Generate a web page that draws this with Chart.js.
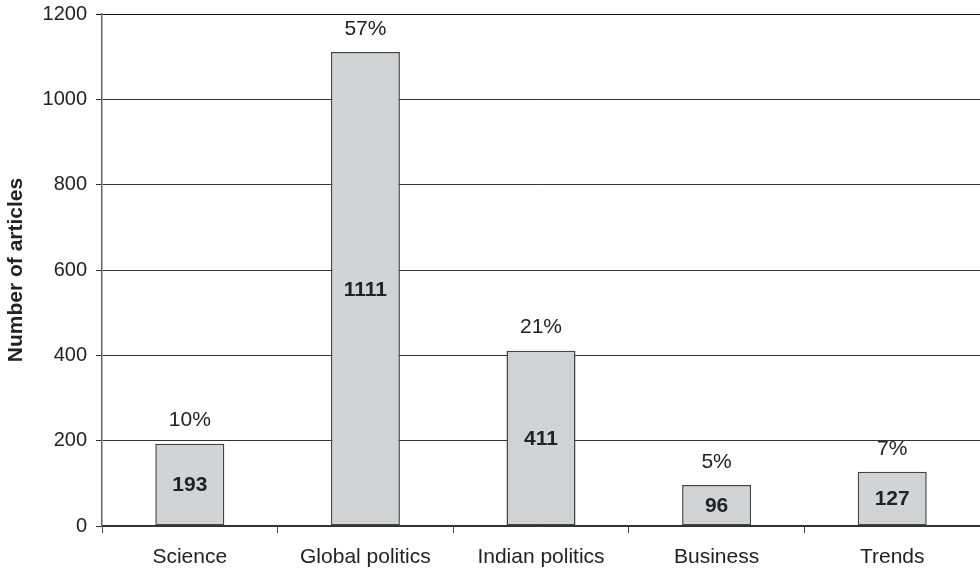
<!DOCTYPE html>
<html>
<head>
<meta charset="utf-8">
<script src="https://cdn.jsdelivr.net/npm/chart.js@4"></script>
<style>
  html, body { margin: 0; padding: 0; background: #fff; }
  #wrap { width: 980px; height: 571px; position: relative; }
</style>
</head>
<body>
<div id="wrap"><canvas id="c"></canvas></div>
<script>
// Article counts per topic
const categories = ['Science', 'Global politics', 'Indian politics', 'Business', 'Trends'];
const articleCounts = [193, 1111, 411, 96, 127];
const shareLabels = ['10%', '57%', '21%', '5%', '7%'];
const yTicks = [0, 200, 400, 600, 800, 1000, 1200];

const FONT = '"Liberation Sans", Arial, Helvetica, sans-serif';
const TEXT = '#222';

// Writes the share above each bar and the count (bold) in its middle
const barLabels = {
  id: 'barLabels',
  afterDatasetsDraw(chart) {
    const ctx = chart.ctx;
    const meta = chart.getDatasetMeta(0);
    ctx.save();
    ctx.fillStyle = TEXT;
    ctx.textAlign = 'center';
    ctx.textBaseline = 'middle';
    meta.data.forEach((bar, i) => {
      const { x, y, base } = bar.getProps(['x', 'y', 'base'], true);
      ctx.font = '21px ' + FONT;
      ctx.fillText(shareLabels[i], x, y - 23);
      ctx.font = 'bold 21px ' + FONT;
      ctx.fillText(String(articleCounts[i]), x, (y + base) / 2 + 1);
    });
    ctx.restore();
  }
};

new Chart(document.getElementById('c'), {
  type: 'bar',
  data: {
    labels: categories,
    datasets: [{
      data: articleCounts,
      backgroundColor: '#d2d3d5',
      borderColor: '#444',
      borderWidth: 1.5,
      borderSkipped: false,
      categoryPercentage: 1,
      barPercentage: 0.393
    }]
  },
  options: {
    responsive: true,
    maintainAspectRatio: false,
    animation: false,
    layout: { padding: { top: 14, right: 0, left: 0, bottom: 0 } },
    plugins: { legend: { display: false }, tooltip: { enabled: false } },
    scales: {
      x: {
        offset: true,
        grid: { offset: true, drawOnChartArea: false, drawTicks: true, tickLength: 7, color: '#444', lineWidth: 1 },
        border: { color: '#333', width: 1.2 },
        ticks: { color: TEXT, font: { family: FONT, size: 21 }, padding: 12 },
        afterFit(s) { s.height = 45; s.paddingLeft = 0; s.paddingRight = 0; }
      },
      y: {
        min: 0,
        max: 1200,
        afterBuildTicks(s) { s.ticks = yTicks.map(v => ({ value: v })); },
        grid: {
          color: ctx => (ctx.tick && ctx.tick.value === 1200 ? '#111' : '#333'),
          lineWidth: 1,
          tickLength: 6,
          drawTicks: true
        },
        border: { color: '#666', width: 1.5 },
        ticks: {
          color: TEXT,
          font: { family: FONT, size: 20 },
          padding: 9,
          callback: v => String(v)
        },
        title: {
          display: true,
          text: 'Number of articles',
          color: TEXT,
          font: { family: FONT, size: 21, weight: 'bold' },
          padding: { top: 4, bottom: 0 }
        },
        afterFit(s) { s.width = 102; s.paddingTop = 0; s.paddingBottom = 0; }
      }
    }
  },
  plugins: [barLabels]
});
</script>
</body>
</html>
